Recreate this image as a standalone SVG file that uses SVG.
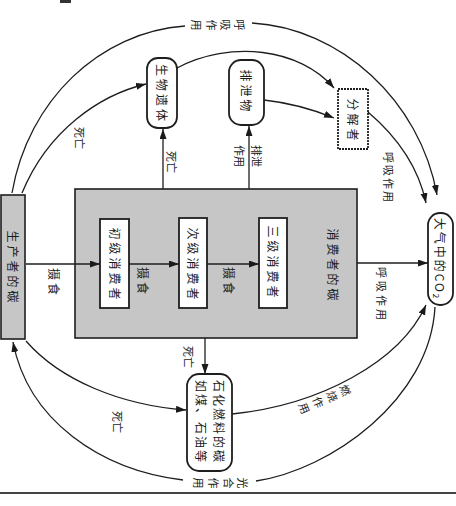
<svg xmlns="http://www.w3.org/2000/svg" width="456" height="506" viewBox="0 0 456 506">
<defs>
<marker id="ah" markerUnits="userSpaceOnUse" markerWidth="11" markerHeight="8" refX="10" refY="3.5" orient="auto"><path d="M0,0 L10,3.5 L0,7 Z" fill="#1a1a1a"/></marker>
<style>
.ln{fill:none;stroke:#1e1e1e;stroke-width:1.3}
.ar{marker-end:url(#ah)}
.gray{fill:#c6c6c6;stroke:#1e1e1e;stroke-width:1.6}
.box{fill:#fff;stroke:#1e1e1e;stroke-width:1.8}
.t{font-family:"Noto Sans CJK SC","Noto Sans",sans-serif;font-size:12px;fill:#1a1a1a;text-anchor:middle;dominant-baseline:central}
.n{letter-spacing:3px}
.s{font-size:11px}
</style>
</defs>
<rect width="456" height="506" fill="#fff"/>
<line x1="0" y1="493" x2="456" y2="493" stroke="#444" stroke-width="2"/>
<path d="M60,1.5 H71" stroke="#333" stroke-width="3"/>

<g id="producer">
<rect class="gray" x="1" y="195" width="24" height="144"/>
<text class="t n" transform="translate(13,268) rotate(90)">生产者的碳</text>
</g>

<g id="consumers">
<rect class="gray" x="75" y="189" width="282" height="149"/>
<text class="t n" transform="translate(333,266) rotate(90)">消费者的碳</text>
</g>

<g id="primary">
<rect class="box" x="100" y="219" width="29" height="89"/>
<text class="t n" transform="translate(115,265) rotate(90)">初级消费者</text>
</g>

<g id="secondary">
<rect class="box" x="179" y="218" width="28" height="90"/>
<text class="t n" transform="translate(193,265) rotate(90)">次级消费者</text>
</g>

<g id="tertiary">
<rect class="box" x="259" y="218" width="28" height="90"/>
<text class="t n" transform="translate(273,263) rotate(90)">三级消费者</text>
</g>

<g id="co2">
<rect class="box" x="428" y="213" width="25" height="92" rx="12"/>
<text class="t" transform="translate(440,259) rotate(90)" style="letter-spacing:2px">大气中的CO<tspan font-size="8" dy="3">2</tspan></text>
</g>

<g id="remains">
<rect class="box" x="147" y="58" width="30" height="70" rx="11"/>
<text class="t n" transform="translate(162,94) rotate(90)">生物遗体</text>
</g>

<g id="excreta">
<rect class="box" x="229" y="60" width="35" height="65" rx="12"/>
<text class="t n" transform="translate(246,92) rotate(90)">排泄物</text>
</g>

<g id="decomposer">
<rect class="box" x="338" y="89" width="30" height="60" stroke-dasharray="2 1"/>
<text class="t n" transform="translate(353,121) rotate(90)">分解者</text>
</g>

<g id="fossil">
<rect class="box" x="187" y="374" width="45" height="97" rx="12"/>
<text class="t" transform="translate(219,422) rotate(90)" style="letter-spacing:2px">石化燃料的碳</text>
<text class="t" transform="translate(201,422) rotate(90)" style="letter-spacing:2px">如煤、石油等</text>
</g>

<g id="connectors">
<path class="ln" d="M12,193 C28,100 100,32 185,26"/>
<path class="ln ar" d="M252,23 C340,28 420,100 437,195"/>
<path class="ln ar" d="M22,193 C48,130 100,95 146,84"/>
<path class="ln ar" d="M177,68 C230,40 300,48 334,88"/>
<path class="ln ar" d="M264,100 Q300,104 334,118"/>
<path class="ln ar" d="M368,112 C395,135 418,165 426,203"/>
<path class="ln ar" d="M163,189 V129"/>
<path class="ln ar" d="M249,189 V126"/>
<path class="ln ar" d="M26,264 H100"/>
<path class="ln ar" d="M129,264 H179"/>
<path class="ln ar" d="M207,264 H259"/>
<path class="ln ar" d="M357,263 H428"/>
<path class="ln ar" d="M205,338 V374"/>
<path class="ln ar" d="M26,341 C60,380 120,405 186,410"/>
<path class="ln ar" d="M232,414 C320,405 400,362 426,305"/>
<path class="ln" d="M435,307 C430,400 330,470 256,481"/>
<path class="ln ar" d="M183,480 C100,470 28,420 13,342"/>
</g>

<g id="labels">
<text class="t s" transform="translate(240,25) rotate(90)">呼</text>
<text class="t s" transform="translate(226,25) rotate(90)">吸</text>
<text class="t s" transform="translate(212,25) rotate(90)">作</text>
<text class="t s" transform="translate(197,25) rotate(90)">用</text>
<text class="t s" transform="translate(80,138) rotate(90)">死亡</text>
<text class="t s" transform="translate(172,162) rotate(90)">死亡</text>
<text class="t s" transform="translate(257,156) rotate(90)">排泄</text>
<text class="t s" transform="translate(240,156) rotate(90)">作用</text>
<text class="t s" transform="translate(389,178) rotate(90)" style="letter-spacing:2px">呼吸作用</text>
<text class="t" transform="translate(54,283) rotate(90)" style="letter-spacing:3px">摄食</text>
<text class="t" transform="translate(143,282) rotate(90)" style="letter-spacing:3px">摄食</text>
<text class="t" transform="translate(229,282) rotate(90)" style="letter-spacing:3px">摄食</text>
<text class="t s" transform="translate(382,295) rotate(90)" style="letter-spacing:3px">呼吸作用</text>
<text class="t s" transform="translate(189,357) rotate(90)">死亡</text>
<text class="t s" transform="translate(118,422) rotate(90)">死亡</text>
<text class="t s" transform="translate(346,390) rotate(68)">燃</text>
<text class="t s" transform="translate(333,396) rotate(68)">烧</text>
<text class="t s" transform="translate(319,402) rotate(68)">作</text>
<text class="t s" transform="translate(305,408) rotate(68)">用</text>
<text class="t s" transform="translate(243,483) rotate(90)">光</text>
<text class="t s" transform="translate(229,483) rotate(90)">合</text>
<text class="t s" transform="translate(214,483) rotate(90)">作</text>
<text class="t s" transform="translate(199,483) rotate(90)">用</text>
</g>
</svg>
